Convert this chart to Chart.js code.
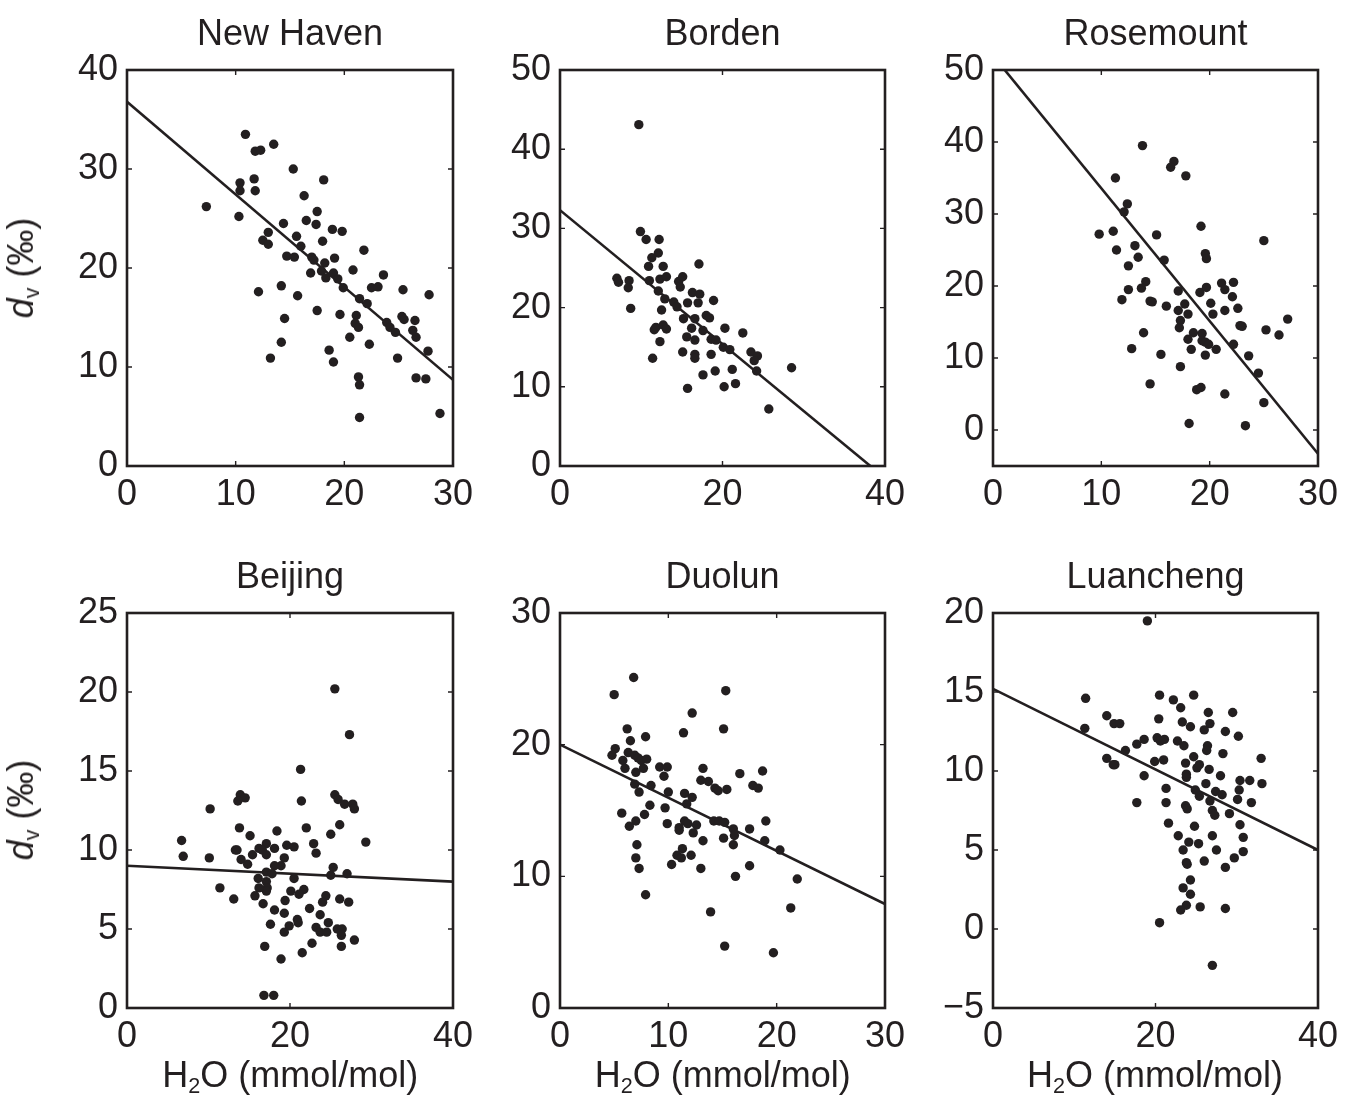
<!DOCTYPE html>
<html>
<head>
<meta charset="utf-8">
<script src="https://cdn.jsdelivr.net/npm/chart.js@4.4.1/dist/chart.umd.min.js"></script>
<style>
body{margin:0;background:#fff;width:1345px;height:1100px;position:relative;overflow:hidden;font-family:"Liberation Sans",Arial,sans-serif;color:#231f20}
canvas{position:absolute}
.xt,.yt{position:absolute;font-size:36px;line-height:1;white-space:nowrap}
.xt{transform:translateX(-50%)}
.yt{transform:translate(-50%,-50%) rotate(-90deg)}
sub{font-size:0.6em;vertical-align:-0.3em;line-height:0}
</style>
</head>
<body>
<canvas id="c0"></canvas>
<canvas id="c1"></canvas>
<canvas id="c2"></canvas>
<canvas id="c3"></canvas>
<canvas id="c4"></canvas>
<canvas id="c5"></canvas>

<div class="yt" style="left:21px;top:268px"><i>d</i><sub>v</sub> (‰)</div>
<div class="yt" style="left:21px;top:810px"><i>d</i><sub>v</sub> (‰)</div>
<div class="xt" style="left:290.3px;top:1057px">H<sub>2</sub>O (mmol/mol)</div>
<div class="xt" style="left:722.8px;top:1057px">H<sub>2</sub>O (mmol/mol)</div>
<div class="xt" style="left:1155px;top:1057px">H<sub>2</sub>O (mmol/mol)</div>

<script>
const sites = ['New Haven','Borden','Rosemount','Beijing','Duolun','Luancheng'];

// H2O (mmol/mol) and dv (permil)
const newHavenH2O = [10.9,13.5,11.8,12.3,15.3,18.1,11.7,10.4,10.4,11.8,7.3,16.3,10.3,17.5,16.5,17.4,14.4,18.9,19.8,13.0,12.5,13.0,15.6,18.0,16.0,21.8,14.7,15.4,17.0,17.2,19.1,18.2,16.9,17.9,19.0,18.3,19.4,20.8,19.9,23.6,22.5,23.1,25.4,27.8,12.1,14.2,15.7,21.4,22.1,17.5,19.6,21.1,21.0,21.3,14.5,23.9,24.2,24.7,25.3,25.5,26.5,26.3,26.6,20.5,22.3,14.2,18.6,19.0,13.2,24.9,27.7,21.3,21.4,26.6,27.5,21.4,28.8];
const newHavenDv  = [33.5,32.5,31.8,31.9,30.0,28.9,29.0,28.6,27.8,27.8,26.2,27.3,25.2,25.7,24.8,24.4,24.5,23.9,23.7,23.6,22.8,22.4,23.2,22.7,22.2,21.8,21.2,21.1,21.1,20.8,21.0,20.5,19.5,19.7,19.5,19.0,18.9,19.8,18.0,19.3,18.0,18.1,17.8,17.3,17.6,18.2,17.2,16.9,16.4,15.7,15.3,15.2,14.4,14.0,14.9,14.5,14.0,13.5,15.1,14.8,14.7,13.7,13.0,13.0,12.3,12.5,11.7,10.5,10.9,10.9,11.6,9.0,8.2,8.9,8.8,4.9,5.3];

const bordenH2O = [9.7,9.9,10.6,12.2,12.1,11.3,10.9,12.7,17.1,7.0,7.2,8.5,8.4,11.0,12.3,13.1,14.6,15.1,14.8,12.1,8.7,12.9,14.0,14.4,16.3,17.2,15.7,17.0,18.9,12.5,15.2,16.6,18.0,18.4,11.6,11.8,12.7,13.1,16.2,17.6,20.3,22.5,15.6,16.6,18.6,19.2,12.3,20.1,20.9,15.1,16.6,16.6,18.6,11.4,23.5,24.3,23.9,24.2,28.5,17.6,19.1,21.2,21.6,20.2,15.7,25.7];
const bordenDv  = [43.1,29.6,28.6,28.6,26.9,26.3,25.2,25.2,25.5,23.7,23.2,23.4,22.5,23.4,23.6,23.9,23.3,23.9,22.6,22.1,19.9,21.1,20.7,20.1,21.9,21.7,20.6,20.6,20.9,19.7,18.6,18.6,19.0,18.7,17.2,17.5,17.8,17.3,17.4,17.1,17.4,16.8,16.3,15.9,16.0,15.9,15.7,15.0,14.7,14.4,14.1,13.6,14.1,13.6,14.4,13.9,13.3,12.0,12.4,11.5,12.0,12.2,10.4,10.0,9.8,7.2];

const rosemountH2O = [13.8,16.7,16.4,17.8,11.3,12.4,12.1,19.2,9.8,11.1,15.1,25.0,11.4,13.1,13.4,19.6,19.7,15.8,12.5,14.1,12.5,13.7,11.9,14.5,14.7,17.1,19.1,19.7,21.1,22.2,21.4,22.1,16.0,17.1,17.7,18.0,20.1,20.3,21.4,22.6,17.3,17.2,22.8,23.0,27.2,25.2,26.4,13.9,18.5,19.3,19.3,19.6,19.9,18.0,22.2,18.3,20.6,19.6,23.6,12.8,15.5,17.3,24.5,14.5,18.8,19.2,21.4,25.0,18.1,23.3];
const rosemountDv  = [39.5,37.3,36.5,35.3,35.0,31.4,30.3,28.3,27.2,27.6,27.1,26.3,25.0,25.6,24.0,24.5,23.8,23.6,22.8,20.6,19.5,19.7,18.1,17.9,17.8,19.3,19.1,19.8,20.4,20.5,19.5,18.5,17.2,16.6,17.5,16.1,17.6,16.1,16.6,16.9,15.2,14.2,14.5,14.4,15.4,13.9,13.2,13.5,13.5,13.4,12.4,12.2,11.9,12.6,11.9,11.2,11.2,10.4,10.3,11.3,10.5,8.8,7.9,6.4,5.6,5.9,5.0,3.8,0.9,0.6];

const beijingH2O = [25.5,27.3,21.3,13.9,14.5,13.6,21.4,25.5,25.9,26.7,27.7,27.9,10.2,26.1,13.8,18.4,22.0,15.1,25.0,6.7,29.3,17.1,22.9,19.6,20.5,18.1,13.5,13.3,16.2,16.6,17.1,15.4,23.2,6.9,10.1,19.3,14.0,14.8,18.9,18.1,25.3,17.1,17.8,25.0,27.0,20.5,16.1,17.1,11.4,17.2,17.1,20.1,21.7,21.1,16.2,15.7,13.1,24.4,24.0,26.1,27.2,19.4,16.7,18.1,22.4,19.3,23.7,20.9,21.0,17.6,19.9,19.3,23.2,24.7,23.7,24.5,25.8,26.4,26.3,27.9,26.3,16.9,22.7,21.5,18.9,16.8,18.0];
const beijingDv  = [20.2,17.3,15.1,13.5,13.3,13.1,13.1,13.5,13.2,12.9,12.9,12.6,12.6,11.6,11.4,11.2,11.4,10.9,11.0,10.6,10.5,10.4,10.4,10.3,10.2,10.1,10.0,10.0,10.1,10.0,9.7,9.7,9.8,9.6,9.5,9.5,9.4,9.1,9.0,9.0,8.9,8.6,8.5,8.4,8.5,8.2,8.2,8.0,7.6,7.6,7.4,7.4,7.5,7.2,7.6,7.1,6.9,7.1,6.7,6.9,6.7,6.8,6.6,6.2,6.3,6.0,5.9,5.6,5.4,5.3,5.2,4.8,5.1,5.4,4.8,4.8,5.0,5.0,4.6,4.3,3.9,3.9,4.1,3.5,3.1,0.8,0.8];

const duolunH2O = [6.8,5.0,15.3,12.2,15.1,11.4,6.2,6.5,7.9,5.1,4.8,6.3,6.9,7.2,5.8,6.0,7.5,8.0,7.7,7.0,9.2,9.9,9.6,13.2,16.6,18.7,13.0,13.7,14.3,14.6,15.4,17.8,18.3,6.9,7.3,8.4,10.0,11.5,12.2,11.7,8.3,9.7,5.7,7.8,7.0,6.4,9.9,11.5,11.8,11.0,11.0,12.6,12.3,14.2,14.7,15.2,16.0,16.1,17.5,19.0,13.2,15.1,16.0,18.9,20.3,7.1,7.0,7.3,11.3,10.8,11.2,12.1,10.3,13.0,17.5,16.2,21.9,7.9,13.9,21.3,15.2,19.7];
const duolunDv  = [25.1,23.8,24.1,22.4,21.2,20.9,21.2,20.3,20.6,19.7,19.2,19.4,19.2,19.0,18.8,18.2,18.8,18.9,18.2,17.9,18.3,18.3,17.6,18.2,17.8,18.0,17.3,17.2,16.7,16.5,16.6,16.9,16.7,17.0,16.4,16.9,16.4,16.3,16.0,15.5,15.4,15.2,14.8,14.7,14.2,13.8,14.0,14.2,14.0,13.7,13.5,13.9,13.3,14.2,14.2,14.1,13.6,13.1,13.6,14.2,12.7,12.9,12.4,12.7,12.0,12.4,11.4,10.6,12.1,11.6,11.4,11.6,10.9,10.6,10.8,10.0,9.8,8.6,7.3,7.6,4.7,4.2];

const luanchengH2O = [19.0,11.4,20.5,22.2,24.7,23.1,26.5,29.5,14.0,14.9,15.6,20.4,23.3,24.3,26.7,26.0,28.6,30.2,11.3,18.6,17.7,20.2,20.6,21.1,22.7,23.5,26.4,26.3,16.3,28.3,24.7,14.0,15.0,14.8,19.9,21.0,23.7,25.1,25.4,26.6,33.0,18.6,23.8,23.8,28.0,30.4,31.6,33.1,26.2,21.3,24.9,27.4,28.2,30.3,25.4,26.7,30.1,31.8,17.7,21.3,23.7,23.9,27.0,27.3,29.1,21.6,24.8,30.4,22.8,24.1,25.3,27.0,30.8,23.4,27.5,30.8,29.7,23.8,23.9,26.0,28.6,24.3,23.4,24.3,23.8,23.1,25.5,28.6,20.5,27.0];
const luanchengDv  = [19.5,14.6,14.8,14.5,14.8,14.0,13.7,13.7,13.5,13.0,13.0,13.3,13.1,12.8,13.0,12.6,12.5,12.2,12.7,12.0,11.7,12.1,11.9,12.0,11.9,11.6,11.6,11.3,11.3,11.1,10.9,10.8,10.4,10.4,10.6,10.7,10.5,10.2,10.4,10.1,10.8,9.7,9.8,9.6,9.7,9.4,9.4,9.2,9.2,8.9,8.8,8.7,8.5,8.8,8.4,8.1,8.2,8.0,8.0,8.0,7.8,7.6,7.5,7.2,7.3,6.7,6.5,6.6,5.9,5.5,5.4,5.9,5.8,5.0,5.0,4.9,4.5,4.2,4.1,4.3,3.9,3.1,2.6,2.2,1.5,1.2,1.4,1.3,0.4,-2.3];

// regression lines, end points
const fitH2O = [[0,30],[0,38.2],[0,30],[0,40],[0,30],[0,40]];
const fitDv  = [[36.8,8.7],[32.3,0],[52.0,-3.3],[9.0,8.0],[20.0,7.9],[15.2,5.0]];

// axis limits and tick steps
const xMax  = [30,40,30,40,30,40];
const xStep = [10,20,10,20,10,20];
const yMin  = [0,0,-5,0,0,-5];
const yMax  = [40,50,50,25,30,20];
const yStep = [10,10,10,5,10,5];

const allH2O = [newHavenH2O,bordenH2O,rosemountH2O,beijingH2O,duolunH2O,luanchengH2O];
const allDv  = [newHavenDv,bordenDv,rosemountDv,beijingDv,duolunDv,luanchengDv];

const ink = '#231f20';
Chart.defaults.font.family = '"Liberation Sans", Arial, sans-serif';
Chart.defaults.font.size = 36;
Chart.defaults.color = ink;

// canvas placement, plot box = canvas minus the margins below
const colLeft = [17, 450, 883], colW = [326, 325, 325];
const rowTop = [6, 549], rowH = [396, 395];
const LEFT = 110, RIGHT = 40, TITLE = 64, BOTTOM = 60;

// box round the plot with matlab style ticks pointing in
const frame = {
  id: 'frame',
  afterDatasetsDraw(chart){
    const {ctx, chartArea: a, scales: {x, y}} = chart;
    ctx.save();
    ctx.strokeStyle = ink;
    ctx.lineWidth = 1.4;
    ctx.beginPath();
    x.ticks.forEach(t => {
      const p = x.getPixelForValue(t.value);
      ctx.moveTo(p, a.bottom); ctx.lineTo(p, a.bottom - 5);
      ctx.moveTo(p, a.top); ctx.lineTo(p, a.top + 5);
    });
    y.ticks.forEach(t => {
      const p = y.getPixelForValue(t.value);
      ctx.moveTo(a.left, p); ctx.lineTo(a.left + 5, p);
      ctx.moveTo(a.right, p); ctx.lineTo(a.right - 5, p);
    });
    ctx.stroke();
    ctx.lineWidth = 2.6;
    ctx.strokeRect(a.left, a.top, a.right - a.left, a.bottom - a.top);
    ctx.restore();
  }
};

const minus = v => String(v).replace('-', '\u2212');

sites.forEach((name, i) => {
  const col = i % 3, row = Math.floor(i / 3);
  const cv = document.getElementById('c' + i);
  cv.width = LEFT + colW[col] + RIGHT;
  cv.height = TITLE + rowH[row] + BOTTOM;
  cv.style.left = colLeft[col] + 'px';
  cv.style.top = rowTop[row] + 'px';

  const pts = allH2O[i].map((h, k) => ({x: h, y: allDv[i][k]}));
  const fit = fitH2O[i].map((h, k) => ({x: h, y: fitDv[i][k]}));

  new Chart(cv, {
    type: 'scatter',
    data: {
      datasets: [
        {data: pts, pointRadius: 4.7, pointHoverRadius: 4.7, pointBackgroundColor: ink, pointBorderWidth: 0},
        {type: 'line', data: fit, borderColor: ink, borderWidth: 2.6, pointRadius: 0, fill: false, clip: 0}
      ]
    },
    options: {
      responsive: false,
      animation: false,
      events: [],
      layout: {padding: {left: 0, right: RIGHT, top: 0, bottom: 0}},
      plugins: {
        legend: {display: false},
        tooltip: {enabled: false},
        title: {display: true, text: name, fullSize: false, color: ink,
          font: {size: 36, weight: 'normal'}, padding: {top: 7, bottom: 13.8}}
      },
      scales: {
        x: {
          type: 'linear', min: 0, max: xMax[i],
          grid: {display: false, drawTicks: false},
          border: {display: false},
          ticks: {stepSize: xStep[i], padding: 7, includeBounds: false, maxRotation: 0, autoSkip: false, callback: minus},
          afterFit: s => { s.height = BOTTOM; }
        },
        y: {
          type: 'linear', min: yMin[i], max: yMax[i],
          grid: {display: false, drawTicks: false},
          border: {display: false},
          ticks: {stepSize: yStep[i], padding: 9, includeBounds: false, autoSkip: false, callback: minus},
          afterFit: s => { s.width = LEFT; }
        }
      }
    },
    plugins: [frame]
  });
});
</script>
</body>
</html>
